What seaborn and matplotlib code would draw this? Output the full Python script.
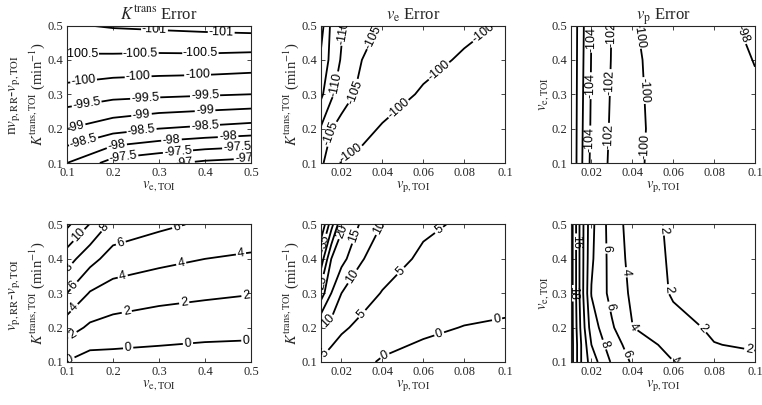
import numpy as np
import matplotlib
matplotlib.use("Agg")
import matplotlib.pyplot as plt
from matplotlib.ticker import FuncFormatter
import seaborn as sns

sns.set_style("ticks")
plt.rcParams["font.family"] = ["Liberation Serif", "DejaVu Serif"]
plt.rcParams["mathtext.fontset"] = "stix"

# grids (axis values)
ve_x = [0.1, 0.2, 0.3, 0.4, 0.5]
kt_y = [0.1, 0.2, 0.3, 0.4, 0.5]
kt_y_fine = [0.1, 0.15, 0.2, 0.3, 0.4, 0.5]
ve_x_fine = [0.1, 0.15, 0.2, 0.3, 0.4, 0.5]
vp_x = [0.01, 0.015, 0.02, 0.03, 0.04, 0.06, 0.08, 0.1]
ve_y = [0.1, 0.2, 0.3, 0.4, 0.5]
ve_y_fine = [0.1, 0.15, 0.2, 0.3, 0.4, 0.5]

# top row: n*vp,RR - vp,TOI  (rows = y values, cols = x values)
ktrans_err_top = [
    [-98.0, -97.3, -97.1, -96.9, -96.8],
    [-99.0, -98.7, -98.5, -98.4, -98.3],
    [-99.8, -99.65, -99.6, -99.55, -99.5],
    [-100.4, -100.38, -100.35, -100.35, -100.3],
    [-100.95, -101.05, -101.1, -101.15, -101.2],
]
ve_err_top = [
    [-106, -102, -99.7, -98.8, -98.3, -97.8, -97.4, -97.0],
    [-109.5, -105.2, -103.5, -101.2, -99.6, -98.5, -98.0, -97.5],
    [-116, -111, -107, -103.8, -102, -99.5, -98.5, -98.0],
    [-119, -113.5, -109.5, -105, -103.5, -101.2, -99.5, -98.7],
    [-122, -114, -110.7, -106.5, -104.6, -102.5, -101, -99.6],
]
vp_err_top = [
    [-110, -106.3, -103.5, -101.6, -100.3, -99.3, -98.9, -98.4],
    [-110, -106.4, -103.7, -101.7, -100.3, -99.4, -98.9, -98.35],
    [-110, -106.5, -103.8, -101.8, -100.25, -99.4, -98.8, -98.2],
    [-110, -106.6, -103.9, -101.9, -100.2, -99.4, -98.7, -97.95],
    [-110, -106.7, -104.0, -101.95, -100.1, -99.3, -98.6, -97.6],
]

# bottom row: vp,RR - vp,TOI
ktrans_err_bot = [
    [-0.1, -0.75, -0.75, -0.8, -0.95, -1.0],
    [1.43, 0.35, 0.25, 0.05, -0.13, -0.2],
    [2.86, 1.67, 1.25, 0.9, 0.7, 0.56],
    [6.0, 3.85, 3.2, 2.65, 2.33, 2.08],
    [8.86, 6.7, 5.1, 4.5, 4.0, 3.7],
    [12.4, 9.9, 7.4, 6.4, 5.7, 5.3],
]
ve_err_bot = [
    [4.4, 2.4, 1.7, 0.8, -0.4, -1.2, -1.6, -1.7],
    [9.9, 8.2, 5.8, 3.7, 2.1, 0.6, -0.1, -0.4],
    [22.5, 15, 10, 7, 4.75, 2.3, 1.5, 1.0],
    [33, 20, 16.6, 10.3, 7.4, 4.1, 3.0, 2.3],
    [45, 32, 21, 14, 9.8, 5.9, 4.3, 3.5],
]
vp_err_bot = [
    [19, 14, 11, 7.75, 5.75, 4.05, 3.0, 2.4],
    [19, 14, 10, 6.86, 5.2, 3.3, 2.05, 1.8],
    [19, 13.5, 9, 6.25, 4.05, 2.6, 1.75, 1.45],
    [19, 13, 7.9, 5.37, 3.64, 1.8, 1.45, 1.25],
    [19, 13, 8.3, 5.2, 3.37, 1.7, 1.35, 1.15],
    [19, 13, 8.5, 5.0, 3.2, 1.6, 1.3, 1.1],
]

# contour levels and where their labels sit (level -> approximate spots)
labels_1 = {
    -101: [(0.29, 0.48), (0.435, 0.466)],
    -100.5: [(0.13, 0.407), (0.26, 0.404), (0.39, 0.404)],
    -100: [(0.136, 0.34), (0.255, 0.34), (0.384, 0.35)],
    -99.5: [(0.143, 0.27), (0.27, 0.29), (0.4, 0.3)],
    -99: [(0.118, 0.207), (0.262, 0.24), (0.4, 0.256)],
    -98.5: [(0.132, 0.183), (0.262, 0.197), (0.4, 0.207)],
    -98: [(0.208, 0.151), (0.327, 0.17), (0.45, 0.183)],
    -97.5: [(0.222, 0.122), (0.341, 0.137), (0.47, 0.146)],
    -97: [(0.355, 0.107), (0.485, 0.112)],
}
labels_2 = {
    -120: [],
    -115: [],
    -110: [(0.016, 0.33), (0.02, 0.48)],
    -105: [(0.0137, 0.187), (0.024, 0.31), (0.034, 0.47)],
    -100: [(0.024, 0.134), (0.047, 0.264), (0.066, 0.38), (0.089, 0.48)],
}
labels_3 = {
    -108: [],
    -106: [],
    -104: [(0.02, 0.46), (0.019, 0.325), (0.018, 0.17)],
    -102: [(0.03, 0.475), (0.03, 0.334), (0.0275, 0.178)],
    -100: [(0.042, 0.47), (0.043, 0.31), (0.044, 0.15)],
    -98: [(0.092, 0.47)],
}
labels_4 = {
    0: [(0.107, 0.105), (0.233, 0.14), (0.363, 0.153), (0.49, 0.16)],
    2: [(0.11, 0.183), (0.23, 0.246), (0.355, 0.27), (0.49, 0.295)],
    4: [(0.114, 0.26), (0.222, 0.344), (0.348, 0.388), (0.478, 0.417)],
    6: [(0.12, 0.317), (0.219, 0.437), (0.34, 0.49)],
    8: [(0.103, 0.378), (0.183, 0.49)],
    10: [(0.125, 0.47)],
    12: [],
}
labels_5 = {
    0: [(0.041, 0.12), (0.068, 0.178), (0.096, 0.227)],
    5: [(0.0127, 0.12), (0.03, 0.24), (0.048, 0.37), (0.067, 0.49)],
    10: [(0.0145, 0.212), (0.025, 0.35), (0.039, 0.49)],
    15: [(0.027, 0.466)],
    20: [(0.02, 0.48)],
    25: [(0.012, 0.33)],
    30: [],
    35: [(0.0115, 0.45)],
    40: [],
}
labels_6 = {
    2: [(0.05, 0.48), (0.0545, 0.31), (0.071, 0.18), (0.097, 0.13)],
    4: [(0.035, 0.36), (0.04, 0.2), (0.061, 0.1)],
    6: [(0.027, 0.43), (0.028, 0.26), (0.036, 0.12)],
    8: [(0.026, 0.15)],
    10: [],
    12: [],
    14: [],
    16: [(0.012, 0.45)],
    18: [(0.011, 0.3)],
}

KT_LABEL = r"$K^{\mathrm{trans,TOI}}$ (min$^{-1}$)"
VE_LABEL = r"$v_{\mathrm{e,TOI}}$"
VP_LABEL = r"$v_{\mathrm{p,TOI}}$"
VP_TICKS = [0.02, 0.04, 0.06, 0.08, 0.1]
VE_TICKS = [0.1, 0.2, 0.3, 0.4, 0.5]

panels = [
    # row, col, x, y, z, labels, xlabel, ylabel, xticks, title
    (0, 0, ve_x, kt_y, ktrans_err_top, labels_1, VE_LABEL, KT_LABEL, VE_TICKS,
     r"$K^{\mathrm{trans}}$ Error"),
    (0, 1, vp_x, kt_y, ve_err_top, labels_2, VP_LABEL, KT_LABEL, VP_TICKS,
     r"$v_{\mathrm{e}}$ Error"),
    (0, 2, vp_x, ve_y, vp_err_top, labels_3, VP_LABEL, VE_LABEL, VP_TICKS,
     r"$v_{\mathrm{p}}$ Error"),
    (1, 0, ve_x_fine, kt_y_fine, ktrans_err_bot, labels_4, VE_LABEL, KT_LABEL, VE_TICKS, None),
    (1, 1, vp_x, kt_y, ve_err_bot, labels_5, VP_LABEL, KT_LABEL, VP_TICKS, None),
    (1, 2, vp_x, ve_y_fine, vp_err_bot, labels_6, VP_LABEL, VE_LABEL, VP_TICKS, None),
]

fig = plt.figure(figsize=(7.62, 4.05), dpi=100)
fig.patch.set_facecolor("white")

col_left = [0.0879, 0.4213, 0.7493]
row_bottom = [0.5975, 0.1062]
ax_w, ax_h = 0.2415, 0.3395

fmt = FuncFormatter(lambda v, _: f"{v:g}")

for row, col, xs, ys, z, lab, xl, yl, xt, title in panels:
    ax = fig.add_axes([col_left[col], row_bottom[row], ax_w, ax_h])
    X, Y = np.meshgrid(xs, ys)
    Z = np.array(z)
    # one contour set per level so each label lands on its own line
    for lev, pts in lab.items():
        cs = ax.contour(X, Y, Z, levels=[lev], colors="black",
                        linewidths=1.3, linestyles="solid")
        if pts:
            ax.clabel(cs, fmt="%g", inline=True, inline_spacing=2,
                      fontsize=9, manual=pts)
    for t in ax.texts:
        t.set_family(["Liberation Sans", "DejaVu Sans"])
    ax.set_xlim(xs[0], xs[-1])
    ax.set_ylim(ys[0], ys[-1])
    ax.set_xticks(xt)
    ax.set_yticks([0.1, 0.2, 0.3, 0.4, 0.5])
    ax.xaxis.set_major_formatter(fmt)
    ax.yaxis.set_major_formatter(fmt)
    ax.tick_params(direction="in", top=True, right=True, length=3, width=0.6,
                   labelsize=9)
    ax.tick_params(axis="x", pad=3)
    ax.tick_params(axis="y", pad=3)
    for s in ax.spines.values():
        s.set_linewidth(0.8)
    ax.set_xlabel(xl, fontsize=10.5, labelpad=0)
    ax.set_ylabel(yl, fontsize=10.5, labelpad=0)
    if title:
        ax.set_title(title, fontsize=12, pad=4)

fig.text(15 / 762, 1 - 95 / 405, r"n$v_{\mathrm{p,RR}}$-$v_{\mathrm{p,TOI}}$",
         rotation=90, ha="center", va="center", fontsize=11)
fig.text(15 / 762, 1 - 295 / 405, r"$v_{\mathrm{p,RR}}$-$v_{\mathrm{p,TOI}}$",
         rotation=90, ha="center", va="center", fontsize=11)

fig.savefig("out.png", dpi=100, facecolor="white")
plt.close(fig)
